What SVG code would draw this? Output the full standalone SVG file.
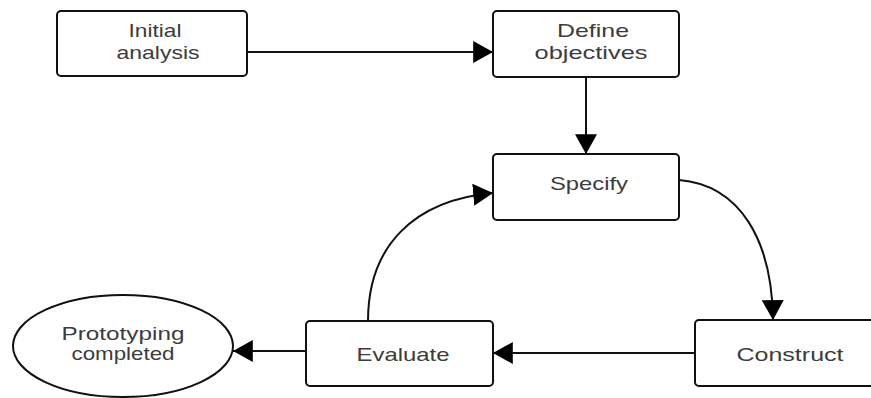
<svg xmlns="http://www.w3.org/2000/svg" width="871" height="398" viewBox="0 0 871 398">
<style>
.box{fill:#fff;stroke:#111;stroke-width:2}
.lbl{font-family:"Liberation Sans",Arial,sans-serif;font-size:19px;fill:#3c3c3c;text-anchor:middle}
.conn{fill:none;stroke:#111;stroke-width:2}
</style>
<defs>
<marker id="ah" markerUnits="userSpaceOnUse" markerWidth="20" markerHeight="22" viewBox="0 0 18 20" refX="18" refY="10" orient="auto">
<path d="M0,0 L18,10 L0,20 z" fill="#000"/>
</marker>
</defs>
<rect width="871" height="398" fill="#fff"/>
<g id="connectors">
<line class="conn" x1="247" y1="52" x2="493" y2="52" marker-end="url(#ah)"/>
<line class="conn" x1="586" y1="77" x2="586" y2="154" marker-end="url(#ah)"/>
<path class="conn" d="M679,180 C740,185 772,240 773,320" marker-end="url(#ah)"/>
<line class="conn" x1="695" y1="353" x2="493" y2="353" marker-end="url(#ah)"/>
<line class="conn" x1="306" y1="351" x2="233" y2="351" marker-end="url(#ah)"/>
<path class="conn" d="M368,321 C368,245 415,200 493,193" marker-end="url(#ah)"/>
</g>
<g id="initial">
<rect class="box" x="57" y="11" width="190" height="65" rx="4"/>
<text class="lbl" x="155" y="37" textLength="53" lengthAdjust="spacingAndGlyphs">Initial</text>
<text class="lbl" x="158" y="59" textLength="83" lengthAdjust="spacingAndGlyphs">analysis</text>
</g>
<g id="define">
<rect class="box" x="493" y="11" width="186" height="66" rx="4"/>
<text class="lbl" x="593" y="37" textLength="72" lengthAdjust="spacingAndGlyphs">Define</text>
<text class="lbl" x="591" y="59" textLength="113" lengthAdjust="spacingAndGlyphs">objectives</text>
</g>
<g id="specify">
<rect class="box" x="493" y="154" width="186" height="66" rx="4"/>
<text class="lbl" x="589" y="190" textLength="78" lengthAdjust="spacingAndGlyphs">Specify</text>
</g>
<g id="construct">
<rect class="box" x="695" y="320" width="190" height="66" rx="4"/>
<text class="lbl" x="790" y="361" textLength="107" lengthAdjust="spacingAndGlyphs">Construct</text>
</g>
<g id="evaluate">
<rect class="box" x="306" y="321" width="187" height="65" rx="4"/>
<text class="lbl" x="403" y="361" textLength="93" lengthAdjust="spacingAndGlyphs">Evaluate</text>
</g>
<g id="completed">
<ellipse class="box" cx="123" cy="346" rx="110" ry="51"/>
<text class="lbl" x="123" y="340" textLength="123" lengthAdjust="spacingAndGlyphs">Prototyping</text>
<text class="lbl" x="123" y="360" textLength="103" lengthAdjust="spacingAndGlyphs">completed</text>
</g>
</svg>
